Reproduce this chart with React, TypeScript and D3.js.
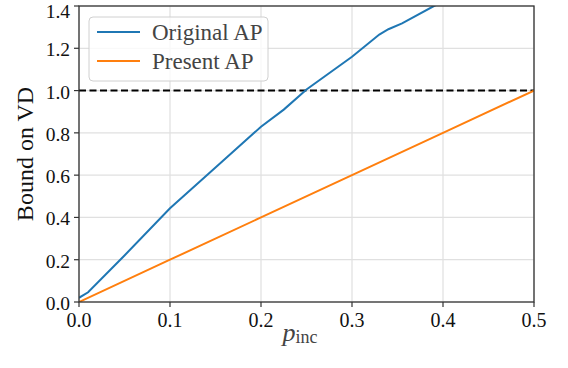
import React from 'react';
import { scaleLinear, line } from 'd3';

const xTicks = [0, 0.1, 0.2, 0.3, 0.4, 0.5];
const yTicks = [0, 0.2, 0.4, 0.6, 0.8, 1.0, 1.2, 1.4];

const origX = [0, 0.01, 0.05, 0.1, 0.15, 0.2, 0.225, 0.25, 0.3, 0.33, 0.34, 0.355, 0.39, 0.45, 0.5];
const origY = [0.02, 0.046, 0.22, 0.443, 0.636, 0.829, 0.91, 1.005, 1.16, 1.265, 1.29, 1.318, 1.4, 1.52, 1.62];

const presX = [0, 0.1, 0.2, 0.3, 0.4, 0.5];
const presY = [0, 0.2, 0.4, 0.6, 0.8, 1.0];

const legendNames = ['Original AP', 'Present AP'];
const colors = ['#1f77b4', '#ff7f0e'];

const W = 568;
const H = 368;
const m = { left: 79, right: 534, top: 6, bottom: 302 };
const font = "'Liberation Serif', 'Times New Roman', serif";

export default function App() {
    const x = scaleLinear().domain([0, 0.5]).range([m.left, m.right]);
    const y = scaleLinear().domain([0, 1.4]).range([m.bottom, m.top]);

    const mk = line<[number, number]>()
        .x((d) => x(d[0]))
        .y((d) => y(d[1]));

    const orig = mk(origX.map((v, i) => [v, origY[i]]));
    const pres = mk(presX.map((v, i) => [v, presY[i]]));

    return (
        <svg width={W} height={H} style={{ position: 'absolute', left: 0, top: 0 }} fontFamily={font}>
            <defs>
                <clipPath id="plot">
                    <rect x={m.left} y={m.top} width={m.right - m.left} height={m.bottom - m.top} />
                </clipPath>
            </defs>
            <rect width={W} height={H} fill="#fff" />
            {/* grid */}
            {xTicks.map((t) => (
                <line key={'gx' + t} x1={x(t)} x2={x(t)} y1={m.top} y2={m.bottom} stroke="#e0e0e0" strokeWidth={1.2} />
            ))}
            {yTicks.map((t) => (
                <line key={'gy' + t} x1={m.left} x2={m.right} y1={y(t)} y2={y(t)} stroke="#e0e0e0" strokeWidth={1.2} />
            ))}

            <g clipPath="url(#plot)">
                <line x1={x(0)} x2={x(0.5)} y1={y(1)} y2={y(1)} stroke="#000" strokeWidth={2} strokeDasharray="7,3.5" />
                <path d={orig ?? ''} fill="none" stroke={colors[0]} strokeWidth={2} />
                <path d={pres ?? ''} fill="none" stroke={colors[1]} strokeWidth={2} />
            </g>

            {/* spines */}
            <rect x={m.left} y={m.top} width={m.right - m.left} height={m.bottom - m.top} fill="none" stroke="#333" strokeWidth={1.3} />

            {xTicks.map((t) => (
                <g key={'tx' + t}>
                    <line x1={x(t)} x2={x(t)} y1={m.bottom} y2={m.bottom + 5} stroke="#333" strokeWidth={1.2} />
                    <text x={x(t)} y={m.bottom + 25} textAnchor="middle" fontSize={20} fill="#111">
                        {t.toFixed(1)}
                    </text>
                </g>
            ))}
            {yTicks.map((t) => (
                <g key={'ty' + t}>
                    <line x1={m.left - 5} x2={m.left} y1={y(t)} y2={y(t)} stroke="#333" strokeWidth={1.2} />
                    <text x={m.left - 9} y={Math.max(y(t) + 8, 17.5)} textAnchor="end" fontSize={19.5} fill="#111">
                        {t.toFixed(1)}
                    </text>
                </g>
            ))}

            <text transform={`translate(33,${(m.top + m.bottom) / 2}) rotate(-90)`} textAnchor="middle" fontSize={24} fill="#111">
                Bound on VD
            </text>
            <text x={300} y={341} textAnchor="middle" fill="#444">
                <tspan fontStyle="italic" fontSize={26}>p</tspan>
                <tspan fontSize={18} dy={2}>inc</tspan>
            </text>

            {/* legend */}
            <rect x={89} y={17} width={179} height={64} rx={4} fill="#fff" fillOpacity={0.8} stroke="#d0d0d0" strokeWidth={1} />
            {legendNames.map((n, i) => (
                <g key={n}>
                    <line x1={97} x2={140} y1={32 + i * 29} y2={32 + i * 29} stroke={colors[i]} strokeWidth={2} />
                    <text x={152} y={40 + i * 29} fontSize={23} fill="#444">
                        {n}
                    </text>
                </g>
            ))}
        </svg>
    );
}
